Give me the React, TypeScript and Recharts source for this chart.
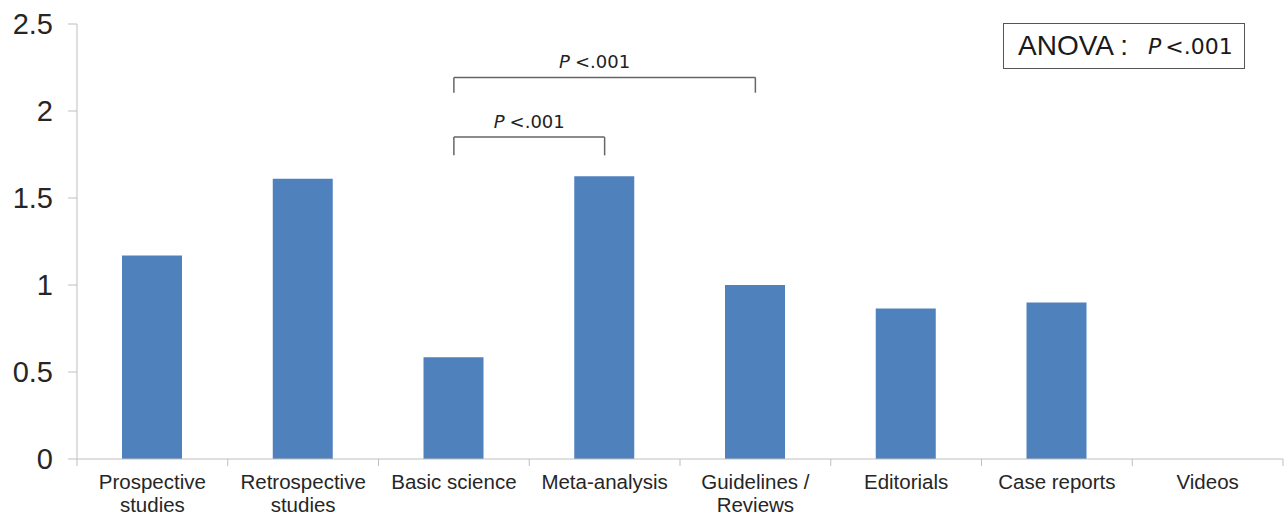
import React from 'react';
import { BarChart, Bar, XAxis, YAxis, ReferenceLine } from 'recharts';

const categories = [
  'Prospective studies',
  'Retrospective studies',
  'Basic science',
  'Meta-analysis',
  'Guidelines / Reviews',
  'Editorials',
  'Case reports',
  'Videos',
];
const tickLabels = [
  ['Prospective', 'studies'],
  ['Retrospective', 'studies'],
  ['Basic science'],
  ['Meta-analysis'],
  ['Guidelines /', 'Reviews'],
  ['Editorials'],
  ['Case reports'],
  ['Videos'],
];
const values = [1.17, 1.61, 0.585, 1.625, 1.0, 0.865, 0.9, 0];
const yTicks = [0, 0.5, 1, 1.5, 2, 2.5];

// comparison brackets between categories
const brackets = [
  { from: 'Basic science', to: 'Guidelines / Reviews', top: 2.193, foot: 2.105, text: '.001', shift: -10 },
  { from: 'Basic science', to: 'Meta-analysis', top: 1.85, foot: 1.745, text: '.001', shift: 0 },
];

const W = 1285;
const H = 516;
const LEFT = 77;
const RIGHT = 2;
const band = (W - LEFT - RIGHT) / categories.length;
const axisGray = '#bfbfbf';

const data = categories.map((c, i) => ({ name: c, value: values[i] }));

function XTick(props: any) {
  const { x, y, index } = props;
  const lines = tickLabels[index] || [];
  return (
    <g>
      <line x1={x - band / 2} x2={x - band / 2} y1={y} y2={y + 7} stroke={axisGray} />
      {index === categories.length - 1 && (
        <line x1={x + band / 2} x2={x + band / 2} y1={y} y2={y + 7} stroke={axisGray} />
      )}
      <text textAnchor="middle" fill="#262626" fontSize={20.5} fontFamily="Liberation Sans, Arial, sans-serif">
        {lines.map((l, i) => (
          <tspan key={i} x={x} y={y + 30 + i * 23}>{l}</tspan>
        ))}
      </text>
    </g>
  );
}

function bracketLabel(text: string, shift: number) {
  return (props: any) => {
    const vb = props.viewBox || {};
    const cx = vb.x + (vb.width || 0) / 2 + shift;
    return (
      <text x={cx} y={vb.y - 9} textAnchor="middle" fill="#222" fontSize={18} fontFamily="DejaVu Sans, Verdana, sans-serif">
        <tspan fontStyle="italic">P</tspan>
        <tspan dx={5}>{'<' + text}</tspan>
      </text>
    );
  };
}

export default function App() {
  return (
    <div style={{ position: 'absolute', left: 0, top: 0, width: W, height: H, background: '#fff' }}>
      <BarChart width={W} height={H} data={data} margin={{ top: 24, right: RIGHT, bottom: 0, left: 0 }}>
        <XAxis
          dataKey="name"
          height={57}
          interval={0}
          tickSize={0}
          tickMargin={0}
          tickLine={false}
          axisLine={{ stroke: axisGray }}
          tick={<XTick />}
        />
        <YAxis
          width={LEFT}
          domain={[0, 2.5]}
          ticks={yTicks}
          tickSize={9}
          tickMargin={15}
          tickLine={{ stroke: axisGray }}
          axisLine={{ stroke: axisGray }}
          tick={{ fill: '#262626', fontSize: 29, fontFamily: 'Liberation Sans, Arial, sans-serif' }}
        />
        <Bar dataKey="value" fill="#4f81bd" barSize={60} isAnimationActive={false} />
        {brackets.map((b, i) => (
          <ReferenceLine
            key={'h' + i}
            segment={[{ x: b.from, y: b.top }, { x: b.to, y: b.top }]}
            stroke="#666"
            strokeWidth={1.5}
            ifOverflow="visible"
            label={bracketLabel(b.text, b.shift)}
          />
        ))}
        {brackets.map((b, i) => (
          <ReferenceLine
            key={'l' + i}
            segment={[{ x: b.from, y: b.top }, { x: b.from, y: b.foot }]}
            stroke="#666"
            strokeWidth={1.5}
            ifOverflow="visible"
          />
        ))}
        {brackets.map((b, i) => (
          <ReferenceLine
            key={'r' + i}
            segment={[{ x: b.to, y: b.top }, { x: b.to, y: b.foot }]}
            stroke="#666"
            strokeWidth={1.5}
            ifOverflow="visible"
          />
        ))}
      </BarChart>
      <div
        style={{
          position: 'absolute',
          left: 1003,
          top: 23,
          width: 242,
          height: 46,
          border: '1px solid #555',
          boxSizing: 'border-box',
          display: 'flex',
          alignItems: 'center',
          paddingLeft: 14,
          color: '#1a1a1a',
          whiteSpace: 'nowrap',
        }}
      >
        <span style={{ fontFamily: 'Liberation Sans, Arial, sans-serif', fontSize: 28 }}>ANOVA :</span>
        <span style={{ fontFamily: 'DejaVu Sans, Verdana, sans-serif', fontSize: 22, marginLeft: 20 }}>
          <i>P</i>
          <span style={{ marginLeft: 4 }}>&lt;.001</span>
        </span>
      </div>
    </div>
  );
}
